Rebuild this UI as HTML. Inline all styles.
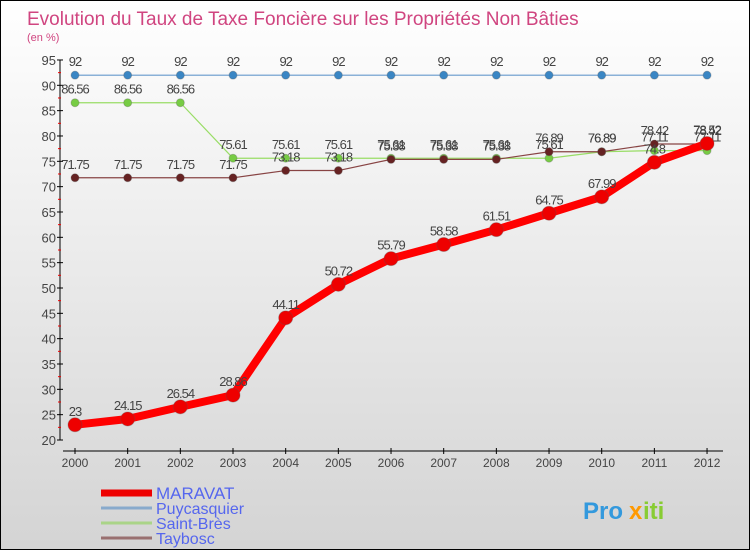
<!DOCTYPE html>
<html><head><meta charset="utf-8"><style>
body{margin:0}
#wrap{width:748px;height:548px;border:1px solid #000;background:linear-gradient(#ffffff,#d4d4d4);position:relative;font-family:"Liberation Sans","DejaVu Sans",sans-serif;overflow:hidden}
</style></head><body>
<div id="wrap">
<svg id="chart" width="748" height="548"></svg>
</div>
<script>
const years=["2000","2001","2002","2003","2004","2005","2006","2007","2008","2009","2010","2011","2012"];
const maravat=[23,24.15,26.54,28.86,44.11,50.72,55.79,58.58,61.51,64.75,67.99,74.8,78.52];
const puycasquier=[92,92,92,92,92,92,92,92,92,92,92,92,92];
const saintBres=[86.56,86.56,86.56,75.61,75.61,75.61,75.61,75.61,75.61,75.61,76.89,77.11,77.11];
const taybosc=[71.75,71.75,71.75,71.75,73.18,73.18,75.38,75.38,75.38,76.89,76.89,78.42,78.42];
const yTicks=[20,25,30,35,40,45,50,55,60,65,70,75,80,85,90,95];
const NS="http://www.w3.org/2000/svg";
const svg=document.getElementById('chart');
const X=i=>74+i*52.67, Y=v=>439-(v-20)*5.067;
function el(t,a,p){const e=document.createElementNS(NS,t);for(const k in a)e.setAttribute(k,a[k]);(p||svg).appendChild(e);return e;}
function txt(s,x,y,a,p){const e=el('text',Object.assign({x:x,y:y},a),p);e.textContent=s;return e;}
const t=txt("Evolution du Taux de Taxe Foncière sur les Propriétés Non Bâties",26,24,{fill:"#d04580","font-size":"19"});

const u=txt("(en %)",26,40,{fill:"#d04580","font-size":"11"});

const ax=el('g',{});
el('line',{x1:59,y1:Y(95),x2:59,y2:Y(20),stroke:"#000"},ax);
yTicks.forEach(v=>{el('line',{x1:56,y1:Y(v),x2:62,y2:Y(v),stroke:"#000"},ax);
 if(v<95)el('line',{x1:57,y1:Y(v+2.5),x2:60,y2:Y(v+2.5),stroke:"#e00"},ax);
 txt(v,55,Y(v)+5,{"text-anchor":"end","font-size":"13",fill:"#444"},ax);});
const xa=el('g',{});
el('line',{x1:62,y1:450,x2:722,y2:450,stroke:"#000"},xa);
years.forEach((y,i)=>{el('line',{x1:X(i),y1:447,x2:X(i),y2:453,stroke:"#000"},xa);
 txt(y,X(i),466,{"text-anchor":"middle","font-size":"12",fill:"#444"},xa);});
function series(name,data,color,w,r,dot){
 const g=el('g',{});
 el('polyline',{points:data.map((v,i)=>X(i)+","+Y(v)).join(" "),fill:"none",stroke:color,"stroke-width":w,"stroke-linejoin":"round"},g);
 data.forEach((v,i)=>{const c=el('circle',{cx:X(i),cy:Y(v),r:r,fill:dot,stroke:"#555","stroke-opacity":0.3},g);
  
  txt(String(v),X(i),Y(v)-9,{"text-anchor":"middle","font-size":"13",fill:"#444","letter-spacing":"-1"},g);});
}
series('puycasquier',puycasquier,"#6699cc",1.2,4,"#3a86c4");
series('saint-bres',saintBres,"#99dd66",1.2,4,"#77cc44");
series('taybosc',taybosc,"#884444",1.2,4,"#662222");
series('maravat',maravat,"#ff0000",8,7,"#ee0000");
const lg=el('g',{});
[["MARAVAT","#ee0000",7,17],["Puycasquier","#88aacc",3,16],["Saint-Brès","#aad488",3,16],["Taybosc","#997070",3,16]].forEach((d,i)=>{
 const y=492+i*15;
 const e=el('g',{},lg);
 el('line',{x1:100,y1:y,x2:151,y2:y,stroke:d[1],"stroke-width":d[2]},e);
 txt(d[0],155,y+6,{"font-size":d[3],fill:"#5566ee"},e);});
const lo=el('g',{});
txt("Pro",582,518,{"font-size":"24","font-weight":"bold",fill:"#3399dd"},lo);
txt("x",628,518,{"font-size":"24","font-weight":"bold",fill:"#ff9900"},lo);
txt("iti",642,518,{"font-size":"24","font-weight":"bold",fill:"#88cc33"},lo);
</script>
</body></html>
